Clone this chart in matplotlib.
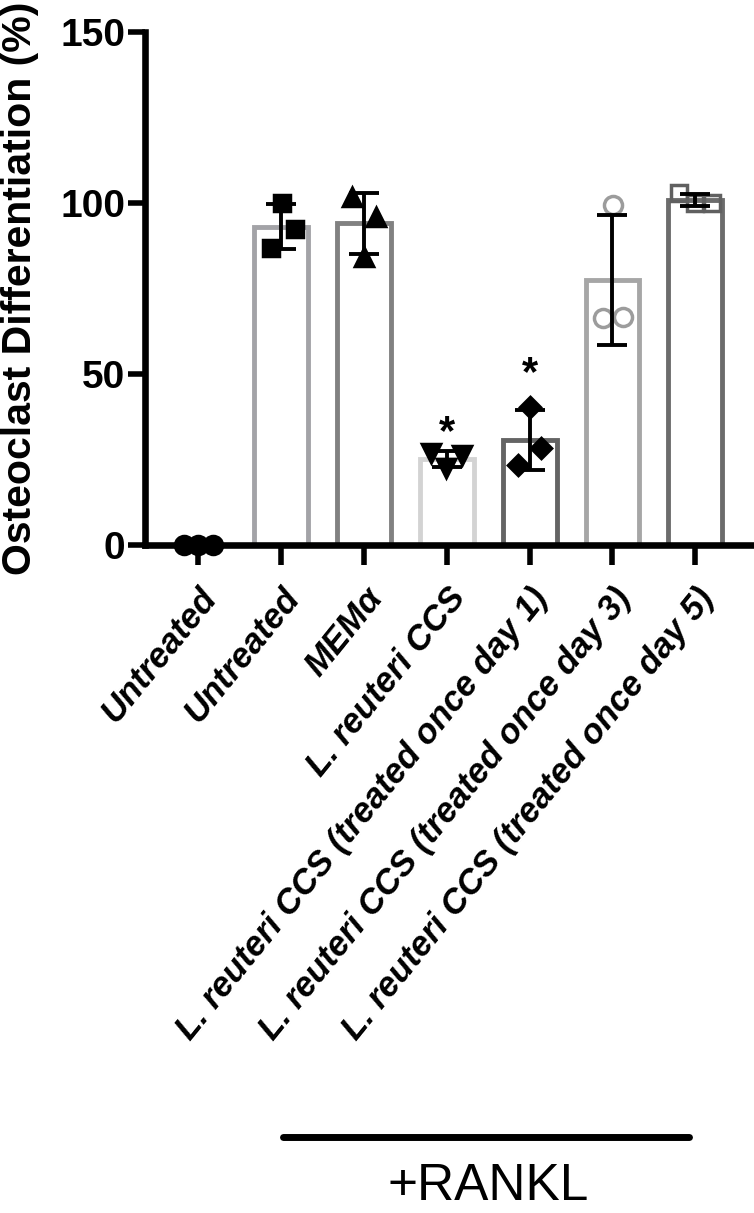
import numpy as np
import matplotlib.pyplot as plt
from matplotlib.transforms import blended_transform_factory

# tick labels (left to right)
labels = ["Untreated", "Untreated", "MEM\u03b1", "L. reuteri CCS",
          "L. reuteri CCS (treated once day 1)",
          "L. reuteri CCS (treated once day 3)",
          "L. reuteri CCS (treated once day 5)"]

# individual replicates, % osteoclast differentiation
untreated = [0.0, 0.0, 0.0]
rankl_untreated = [99.9, 92.3, 86.9]
mem_alpha = [101.8, 95.9, 84.2]
ccs = [26.8, 26.3, 22.4]
ccs_day1 = [40.4, 28.3, 23.4]
ccs_day3 = [99.4, 66.2, 66.7]
ccs_day5 = [102.8, 99.9, 99.9]

# significance stars: group index and height
star_groups = [3, 4]
star_heights = [36.5, 53.6]

groups = [untreated, rankl_untreated, mem_alpha, ccs, ccs_day1, ccs_day3, ccs_day5]
means = [np.mean(g) for g in groups]
sds = [np.std(g, ddof=1) for g in groups]

# drawing styles
edge_cols = ["black", "#a3a3a7", "#818181", "#d3d3d3", "#646464", "#a6a6a6", "#6c6c6c"]
markers = ["o", "s", "^", "v", "D", "o", "s"]
msizes = [13, 12, 13, 13, 10, 13, 11]
mface = ["black", "black", "black", "black", "black", "none", "none"]
medge = ["black", "black", "black", "black", "black", "#9c9c9c", "#606060"]
jitter = [[-0.17, 0.0, 0.17], [0.01, 0.16, -0.13], [-0.14, 0.14, 0.0],
          [-0.19, 0.18, -0.01], [0.0, 0.14, -0.14], [0.01, -0.11, 0.13],
          [-0.2, 0.0, 0.2]]

fig = plt.figure(figsize=(7.54, 12.13), dpi=100)
ax = fig.add_axes([0.1923, 0.5507, 0.8033, 0.4232])

x = np.arange(len(groups))
ax.bar(x, means, width=0.65, color="white", edgecolor=edge_cols, linewidth=3.5, zorder=2)

for i, g in enumerate(groups):
    xs = [i + j for j in jitter[i]]
    ax.plot(xs, g, linestyle="none", marker=markers[i], ms=msizes[i],
            mfc=mface[i], mec=medge[i], mew=2.5, zorder=6, clip_on=False)

ax.errorbar(x[1:], means[1:], yerr=sds[1:], fmt="none", ecolor="black",
            elinewidth=2.8, capsize=11, capthick=2.8, zorder=7)

for gi, h in zip(star_groups, star_heights):
    ax.annotate("*", xy=(gi, h), xytext=(0, -17), textcoords="offset points",
                ha="center", va="baseline", fontsize=30, fontweight="bold",
                family="Liberation Sans")

ax.set_xlim(-0.646, 6.67)
ax.set_ylim(0, 150)
ax.set_yticks([0, 50, 100, 150])

for side in ["top", "right"]:
    ax.spines[side].set_visible(False)
for side in ["left", "bottom"]:
    ax.spines[side].set_linewidth(4.75)
    ax.spines[side].set_zorder(5)

ax.tick_params(axis="y", length=12, width=4, pad=2)
ax.tick_params(axis="x", length=14.4, width=4, pad=12)
ax.set_xticks(x)
ax.set_xticklabels(labels, rotation=51, ha="right", va="top", rotation_mode="anchor",
                   fontsize=25, fontweight="bold", fontstyle="italic",
                   family="Liberation Sans")
for t in ax.get_yticklabels():
    t.set_fontsize(28)
    t.set_fontweight("bold")
    t.set_family("Liberation Sans")

fig.text(0.026, 0.762, "Osteoclast Differentiation (%)", rotation=90,
         ha="center", va="center", fontsize=29.5, fontweight="bold",
         family="Liberation Sans")

# +RANKL bracket below the labels
trans = blended_transform_factory(ax.transData, fig.transFigure)
ax.plot([1.02, 5.92], [0.0627, 0.0627], transform=trans, color="black",
        linewidth=5, solid_capstyle="round", clip_on=False)
ax.text(3.5, 0.002, "+RANKL", transform=trans, ha="center", va="bottom",
        fontsize=37, family="Liberation Sans")

fig.savefig("out.png", dpi=100)
